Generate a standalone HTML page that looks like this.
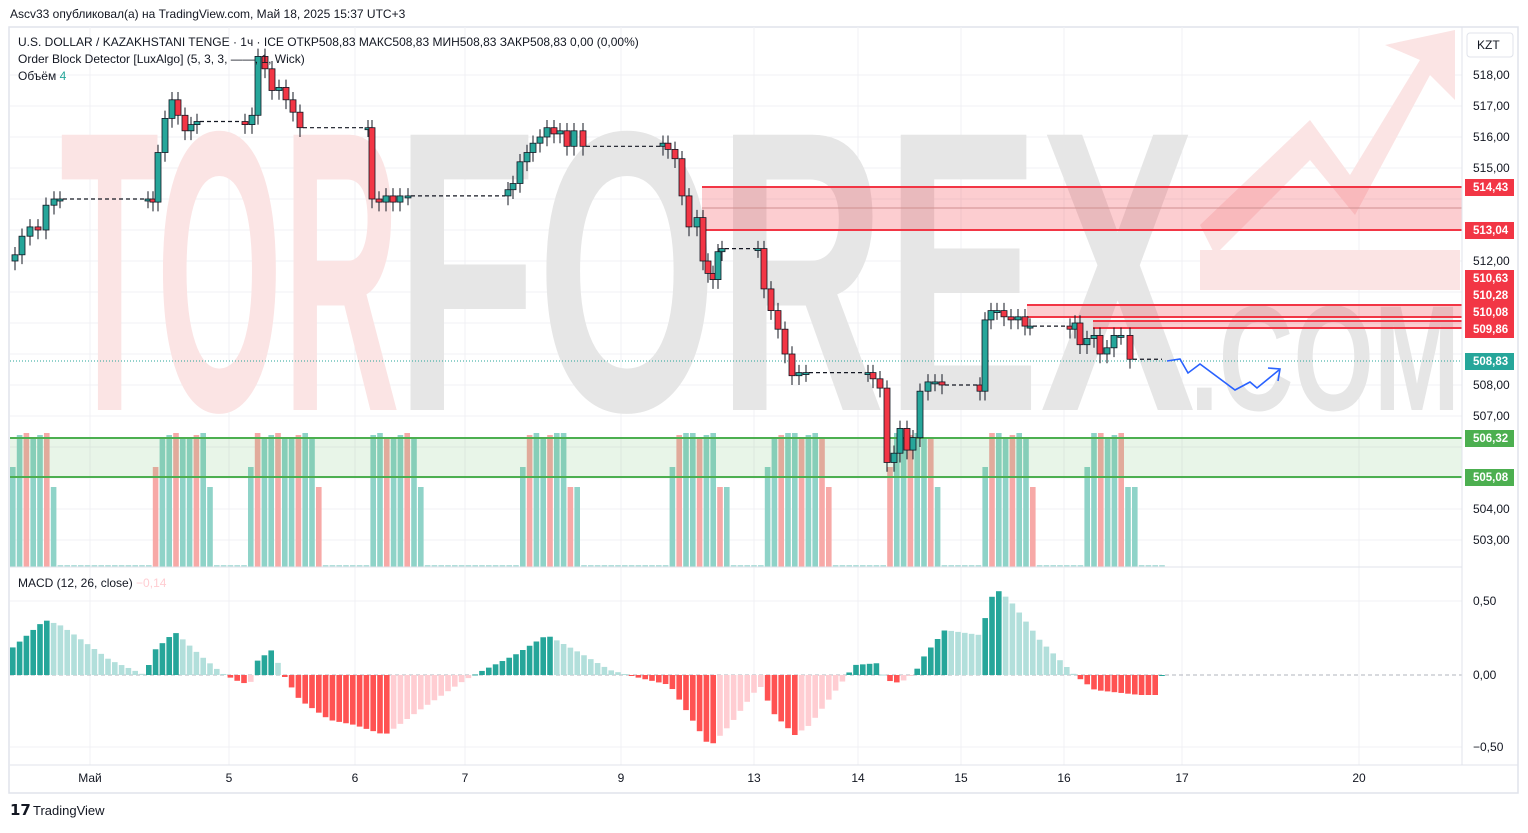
<!DOCTYPE html>
<html><head><meta charset="utf-8"><style>
body{margin:0;background:#fff;width:1528px;height:828px;overflow:hidden;font-family:"Liberation Sans",sans-serif}
svg text{font-family:"Liberation Sans",sans-serif}
</style></head><body>
<svg id="s" width="1528" height="828" xmlns="http://www.w3.org/2000/svg">
<rect x="0" y="0" width="1528" height="828" fill="#fff"/>
<rect x="9" y="27" width="1509" height="766" fill="none" stroke="#e0e3eb" stroke-width="1.5"/>
<g id="grid" stroke="#f0f1f4" stroke-width="1"></g>
<!-- watermark -->
<g>
<text x="60" y="410" font-size="400" font-weight="bold" fill="#fbe4e4" textLength="340" lengthAdjust="spacingAndGlyphs">TOR</text>
<text x="395" y="410" font-size="400" font-weight="bold" fill="#e6e6e6" textLength="800" lengthAdjust="spacingAndGlyphs">FOREX</text>
<text x="1190" y="410" font-size="150" font-weight="bold" fill="#e6e6e6" textLength="270" lengthAdjust="spacingAndGlyphs">.COM</text>
<path d="M1200,225 L1310,120 L1350,175 L1420,60 L1385,45 L1455,30 L1455,100 L1430,75 L1355,215 L1310,160 L1215,255 Z" fill="#fbe4e4"/>
<rect x="1200" y="250" width="260" height="40" fill="#fbe4e4"/>
</g>
<g id="vol"></g>
<!-- zones -->
<rect x="702" y="187" width="760" height="43" fill="#f23645" fill-opacity="0.25"/>
<line x1="702" y1="187" x2="1462" y2="187" stroke="#f23645" stroke-width="2"/>
<line x1="702" y1="230" x2="1462" y2="230" stroke="#f23645" stroke-width="2"/>
<line x1="702" y1="208" x2="1462" y2="208" stroke="#d09090" stroke-width="1"/>
<rect x="1027" y="305" width="435" height="12" fill="#f23645" fill-opacity="0.25"/>
<line x1="1027" y1="305" x2="1462" y2="305" stroke="#f23645" stroke-width="2"/>
<line x1="1027" y1="317" x2="1462" y2="317" stroke="#f23645" stroke-width="2"/>
<rect x="1093" y="321" width="369" height="7" fill="#f23645" fill-opacity="0.25"/>
<line x1="1093" y1="321" x2="1462" y2="321" stroke="#f23645" stroke-width="2"/>
<line x1="1093" y1="328" x2="1462" y2="328" stroke="#f23645" stroke-width="2"/>
<rect x="10" y="438" width="1452" height="39" fill="#4caf50" fill-opacity="0.13"/>
<line x1="10" y1="438" x2="1462" y2="438" stroke="#4caf50" stroke-width="2"/>
<line x1="10" y1="477" x2="1462" y2="477" stroke="#4caf50" stroke-width="2"/>
<line x1="10" y1="361" x2="1462" y2="361" stroke="#26a69a" stroke-width="1" stroke-dasharray="1,2"/>
<g id="cnd"></g>
<path d="M1167,361 L1180,359 L1188,373 L1200,364 L1235,390 L1250,382 L1257,388 L1279,370" fill="none" stroke="#2962ff" stroke-width="1.6"/>
<path d="M1268,368 L1280,369 L1278,381" fill="none" stroke="#2962ff" stroke-width="1.6"/>
<line x1="10" y1="567" x2="1462" y2="567" stroke="#e0e3eb"/>
<line x1="10" y1="675" x2="1462" y2="675" stroke="#b2b5be" stroke-dasharray="4,3"/>
<g id="macd"></g>
<line x1="10" y1="765" x2="1518" y2="765" stroke="#e0e3eb"/>
<line x1="1462" y1="27" x2="1462" y2="765" stroke="#e0e3eb"/>
<g id="ax" font-size="12" fill="#131722"></g>
<g id="lbl" font-size="11.5" font-weight="bold" fill="#fff"></g>
<rect x="1467" y="33" width="46" height="24" rx="3" fill="#fff" stroke="#e0e3eb"/>
<text x="1477" y="49" font-size="12" fill="#131722">KZT</text>
<text x="10" y="18" font-size="12" fill="#131722">Ascv33 опубликовал(а) на TradingView.com, Май 18, 2025 15:37 UTC+3</text>
<text x="18" y="46" font-size="12" fill="#131722">U.S. DOLLAR / KAZAKHSTANI TENGE · 1ч · ICE  ОТКР508,83  МАКС508,83  МИН508,83  ЗАКР508,83  0,00 (0,00%)</text>
<text x="18" y="63" font-size="12" fill="#131722">Order Block Detector [LuxAlgo] (5, 3, 3, ——, 1, Wick)</text>
<text x="18" y="80" font-size="12" fill="#131722">Объём <tspan fill="#26a69a">4</tspan></text>
<text x="18" y="587" font-size="12" fill="#131722">MACD (12, 26, close) <tspan fill="#ffcdd2">−0,14</tspan></text>
<text x="10" y="815" font-size="15" font-weight="bold" fill="#131722">𝟭𝟳</text>
<text x="33" y="815" font-size="13" fill="#131722">TradingView</text>
</svg>
<script>
const NS="http://www.w3.org/2000/svg";
function el(p,t,a){const e=document.createElementNS(NS,t);for(const k in a)e.setAttribute(k,a[k]);p.appendChild(e);return e;}
const Y=p=>75+(518-p)*31;
const grid=document.getElementById('grid');
for(let p=503;p<=518;p++)el(grid,'line',{x1:10,x2:1462,y1:Y(p),y2:Y(p)});
[601,747].forEach(y=>el(grid,'line',{x1:10,x2:1462,y1:y,y2:y}));
const dates=[[90,'Май'],[229,'5'],[355,'6'],[465,'7'],[621,'9'],[754,'13'],[858,'14'],[961,'15'],[1064,'16'],[1182,'17'],[1359,'20']];
dates.forEach(d=>el(grid,'line',{x1:d[0],x2:d[0],y1:27,y2:765}));
const ax=document.getElementById('ax');
dates.forEach(d=>{const t=el(ax,'text',{x:d[0],y:782,'text-anchor':'middle'});t.textContent=d[1];});
for(let p=503;p<=518;p++){if([505,506,509,510,513,514].includes(p))continue;const t=el(ax,'text',{x:1473,y:Y(p)+4});t.textContent=p+',00';}
[[601,'0,50'],[675,'0,00'],[747,'−0,50']].forEach(a=>{const t=el(ax,'text',{x:1473,y:a[0]+4});t.textContent=a[1];});
const lbl=document.getElementById('lbl');
[[187,'514,43','#f23645'],[230,'513,04','#f23645'],[278,'510,63','#f23645'],[295,'510,28','#f23645'],[312,'510,08','#f23645'],[329,'509,86','#f23645'],[361,'508,83','#26a69a'],[438,'506,32','#4caf50'],[477,'505,08','#4caf50']].forEach(a=>{
el(lbl,'rect',{x:1465,y:a[0]-8,width:49,height:17,fill:a[2]});const t=el(lbl,'text',{x:1473,y:a[0]+4});t.textContent=a[1];});
el(lbl,'rect',{x:1465,y:270,width:49,height:67,fill:'#f23645'});
[[278,'510,63'],[295,'510,28'],[312,'510,08'],[329,'509,86']].forEach(a=>{const t=el(lbl,'text',{x:1473,y:a[0]+4});t.textContent=a[1];});
// volume
const vol=document.getElementById('vol');
const cl=[[10,55],[150,210],[248,320],[365,420],[520,575],[668,725],[760,830],[885,940],[980,1035],[1083,1133]];
for(let x=10;x<1162;x+=6.8){let h=2,inC=null;cl.forEach(c=>{if(x>=c[0]&&x<=c[1])inC=c;});
 let col=Math.floor(x/7)%3==0?'#f7a9a7':'#8fd3c8';
 if(inC){h=130+(Math.floor(x)%3)*2;if(x>inC[1]-8)h=80;if(x<inC[0]+5)h=100;}
 el(vol,'rect',{x:x,y:567-h,width:5.6,height:h,fill:inC?col:'#b2dfdb'});}
// candles
const P=[[15,512.2],[22,512.8],[30,513.1],[38,513],[46,513.8],[54,514],[60,514.0,'f'],[148,514],[153,513.9],[158,515.5],[165,516.6],[172,517.2],[178,516.7],[185,516.2],[191,516.4],[197,516.5,'f'],[245,516.4],[252,516.7],[258,518.6],[265,518.2],[272,517.5],[279,517.6],[286,517.2],[293,516.8],[300,516.3,'f'],[368,516.3],[372,514.0],[379,513.9],[386,514.1],[393,513.9],[400,514.1],[408,514.1,'f'],[508,514.3],[513,514.5],[520,515.2],[527,515.5],[533,515.8],[540,516],[547,516.3],[554,516.1],[560,516.2],[567,515.7],[574,516.2],[583,515.7,'f'],[663,515.8],[668,515.6],[675,515.3],[682,514.1],[689,513.1],[697,513.4],[703,512.0],[708,511.6],[713,511.4],[718,512.3],[722,512.4,'f'],[758,512.4],[764,511.1],[771,510.4],[778,509.8],[785,509.0],[792,508.3],[799,508.4],[806,508.4,'f'],[868,508.4],[873,508.2],[880,507.9],[887,505.5],[894,505.8],[900,506.6],[907,505.9],[913,506.3],[920,507.8],[928,508.1],[935,508.1],[942,508.0,'f'],[980,507.8],[985,510.1],[991,510.4],[997,510.4],[1004,510.2],[1011,510.1],[1018,510.2],[1025,509.9],[1030,509.9,'f'],[1070,509.8],[1075,510],[1080,509.3],[1087,509.5],[1094,509.6],[1100,509.0],[1107,509.2],[1114,509.6],[1121,509.6],[1130,508.83,'f']];
const g=document.getElementById('cnd');
let prev=512.0;
for(let i=0;i<P.length;i++){const [x,c,f]=P[i];
 const o=prev,up=c>=o,col=up?'#089981':'#f23645';
 const hi=Math.max(o,c)+0.25,lo=Math.min(o,c)-0.3;
 el(g,'line',{x1:x,x2:x,y1:Y(hi),y2:Y(lo),stroke:'#131722','stroke-width':1});
 const yt=Y(Math.max(o,c)),h=Math.max(2,Math.abs(Y(o)-Y(c)));
 el(g,'rect',{x:x-3,y:yt,width:6,height:h,fill:up?'#26a69a':'#f23645',stroke:'#131722','stroke-width':0.8});
 if(f){const nx=i+1<P.length?P[i+1][0]:1165;el(g,'line',{x1:x+3,x2:nx-3,y1:Y(c),y2:Y(c),stroke:'#131722','stroke-width':1.2,'stroke-dasharray':'4,3'});}
 prev=c;}
// macd
const K=[[10,25],[45,55],[60,50],[75,40],[110,15],[145,0],[155,25],[175,43],[200,20],[222,2],[235,-5],[250,-10],[258,15],[272,25],[285,-2],[300,-25],[330,-45],[355,-50],[385,-60],[420,-35],[465,-5],[480,3],[515,20],[547,40],[575,25],[610,5],[640,-3],[670,-10],[710,-72],[730,-50],[760,-10],[775,-40],[795,-60],[810,-50],[840,-10],[855,10],[880,12],[885,-5],[900,-8],[915,2],[925,20],[945,45],[980,40],[995,87],[1010,75],[1040,35],[1075,0],[1095,-15],[1140,-20],[1160,-20]];
function v(x){for(let i=0;i<K.length-1;i++){if(x>=K[i][0]&&x<=K[i+1][0]){const t=(x-K[i][0])/(K[i+1][0]-K[i][0]);return K[i][1]+t*(K[i+1][1]-K[i][1]);}}return 0;}
const m=document.getElementById('macd');let pv=0;
for(let x=10;x<1160;x+=6.8){const val=v(x+3);let col;
 if(val>=0)col=val>=pv?'#26a69a':'#b2dfdb';else col=val<=pv?'#ff5252':'#ffcdd2';
 el(m,'rect',{x:x,y:val>=0?675-val:675,width:5.6,height:Math.max(1,Math.abs(val)),fill:col});pv=val;}
</script>
</body></html>
